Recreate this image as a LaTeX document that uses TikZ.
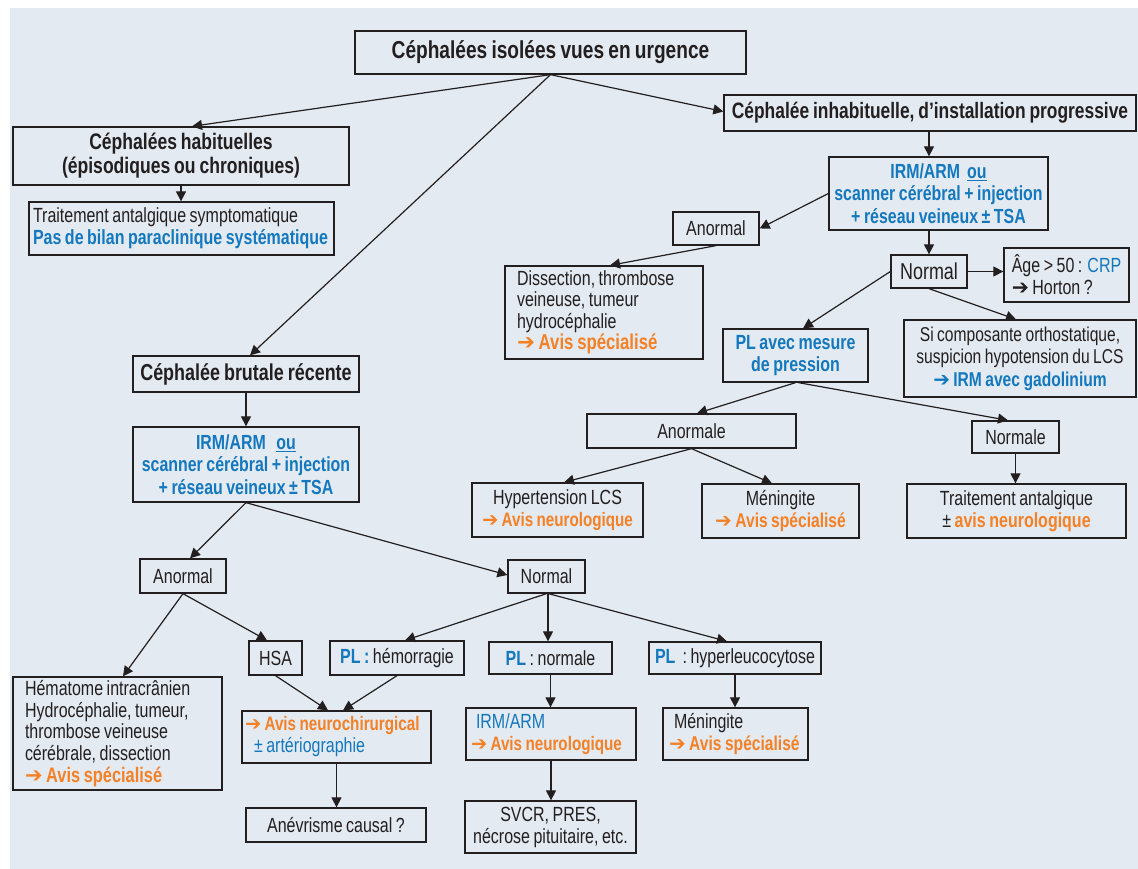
\documentclass[tikz,border=0pt]{standalone}
\usepackage{fontspec}
\setmainfont{Liberation Sans}[FakeStretch=0.78, WordSpace={0.8,0.3,0.3}]
\newfontfamily\symf{DejaVu Sans}
\usetikzlibrary{arrows.meta,calc}
\definecolor{bgc}{RGB}{227,234,241}
\definecolor{ablue}{RGB}{20,120,190}
\definecolor{aorange}{RGB}{245,128,37}
\definecolor{ink}{RGB}{35,31,32}
\newcommand\harr{{\symf\symbol{"2794}}}
\newcommand\fz[1]{\fontsize{#1}{22}\selectfont}
\newcommand\bl[1]{\textcolor{ablue}{\bfseries #1}}
\newcommand\orr[1]{\textcolor{aorange}{\bfseries #1}}
\tikzset{
  box/.style={draw=ink, line width=1.3pt, inner sep=0pt, text=ink, align=center, font=\fz{20.5}},
  lbox/.style={box, align=flush left},
  arr/.style={draw=ink, line width=1.2pt, -{Triangle[length=10pt,width=10pt]}},
}
\begin{document}
\begin{tikzpicture}[x=1pt,y=-1pt]
\useasboundingbox (0,0) rectangle (1138,869);
\fill[bgc] (10,8) rectangle (1138,869);

% top
\node[box, minimum width=391, minimum height=43, font=\fz{24.5}\bfseries] (title) at (550.5,52.5) {Céphalées isolées vues en urgence};
\node[box, minimum width=336, minimum height=58, font=\fontsize{22.5}{24}\selectfont\bfseries] (hab) at (181,156) {Céphalées habituelles\\(épisodiques ou chroniques)};
\node[lbox, minimum width=305, minimum height=53, text width=297] (trait) at (181.5,228.5) {Traitement antalgique symptomatique\\\bl{Pas de bilan paraclinique systématique}};
\node[box, minimum width=412, minimum height=36, font=\fz{22.3}\bfseries] (inhab) at (930,113) {Céphalée inhabituelle, d’installation progressive};

% right branch
\node[box, minimum width=219, minimum height=73, font=\fontsize{20.4}{22.5}\selectfont\bfseries, text=ablue] (irmR) at (938.5,193.5) {IRM/ARM\ \ \underline{ou}\\scanner cérébral + injection\\+ réseau veineux ± TSA};
\node[box, minimum width=86, minimum height=33] (anoR) at (716,228.5) {Anormal};
\node[box, minimum width=76, minimum height=33, font=\fz{23}] (normR) at (929,271.5) {Normal};
\node[lbox, minimum width=125, minimum height=54] (age) at (1066.5,275) {Âge > 50 : \textcolor{ablue}{CRP}\\\harr\,Horton ?};
\node[lbox, minimum width=198, minimum height=93, text width=174, font=\fontsize{20.5}{21.5}\selectfont] (diss) at (604,312.5) {Dissection, thrombose\\veineuse, tumeur\\hydrocéphalie\\\orr{\fontsize{21.5}{21.5}\selectfont\harr\ Avis spécialisé}};
\node[box, minimum width=145, minimum height=53, font=\fontsize{20.5}{22}\selectfont\bfseries, text=ablue] (plmes) at (795.5,355.5) {PL avec mesure\\de pression};
\node[box, minimum width=232, minimum height=77, font=\fontsize{20}{22.5}\selectfont] (sicomp) at (1020,358.5) {Si composante orthostatique,\\suspicion hypotension du LCS\\\bl{\harr\,IRM avec gadolinium}};
\node[box, minimum width=209, minimum height=34] (anormale) at (691.5,431) {Anormale};
\node[box, minimum width=87, minimum height=32] (normale) at (1015.5,437) {Normale};
\node[box, minimum width=171, minimum height=54] (hyper) at (557.5,510) {Hypertension LCS\\\orr{\fontsize{19.5}{22}\selectfont\harr\,Avis neurologique}};
\node[box, minimum width=157, minimum height=54] (menR) at (780.5,511) {Méningite\\\orr{\fontsize{20}{22}\selectfont\harr\ Avis spécialisé}};
\node[box, minimum width=219, minimum height=54] (traitR) at (1016.5,511) {Traitement antalgique\\± \orr{avis neurologique}};

% left branch
\node[box, minimum width=226, minimum height=36, font=\fz{23}\bfseries] (brut) at (246,374) {Céphalée brutale récente};
\node[box, minimum width=226, minimum height=75, font=\fontsize{20.4}{22.5}\selectfont\bfseries, text=ablue] (irmL) at (246,464.5) {IRM/ARM\ \ \ \underline{ou}\\scanner cérébral + injection\\+ réseau veineux ± TSA};
\node[box, minimum width=86, minimum height=34] (anoL) at (183,576) {Anormal};
\node[box, minimum width=77, minimum height=33] (normM) at (546.5,576.5) {Normal};
\node[box, minimum width=53, minimum height=34] (hsa) at (275.5,658) {HSA};
\node[box, minimum width=134, minimum height=34] (plhem) at (397,658) {\bl{PL :} hémorragie};
\node[box, minimum width=123, minimum height=32] (plnorm) at (550.5,658) {\bl{PL} : normale};
\node[box, minimum width=172, minimum height=32] (plhyp) at (735,658) {\bl{PL}\ \ : hyperleucocytose};
\node[lbox, minimum width=209, minimum height=113, text width=185, font=\fontsize{20.5}{21.7}\selectfont] (hemat) at (117.5,733.5) {Hématome intracrânien\\Hydrocéphalie, tumeur,\\thrombose veineuse\\cérébrale, dissection\\\orr{\fontsize{21}{21.7}\selectfont\harr\ Avis spécialisé}};
\node[lbox, minimum width=189, minimum height=52, text width=183] (neuroch) at (336.5,737) {\orr{\fontsize{19.5}{22}\selectfont\harr\,Avis neurochirurgical}\\\hspace*{9pt}\textcolor{ablue}{± artériographie}};
\node[box, minimum width=180, minimum height=34] (anev) at (336,825) {Anévrisme causal ?};
\node[lbox, minimum width=170, minimum height=52, text width=160] (irmN) at (551,734) {\hspace*{5pt}\textcolor{ablue}{IRM/ARM}\\\orr{\fontsize{19.5}{22}\selectfont\harr\,Avis neurologique}};
\node[lbox, minimum width=145, minimum height=52, text width=133] (menL) at (735.5,734) {\hspace*{5pt}Méningite\\\orr{\fontsize{20}{22}\selectfont\harr\ Avis spécialisé}};
\node[box, minimum width=171, minimum height=52] (svcr) at (550.5,827) {SVCR, PRES,\\nécrose pituitaire, etc.};

% connectors
\draw[arr] (title.south) -- ([xshift=11]hab.north);
\draw[arr] (title.south) -- ([xshift=4]brut.north);
\draw[arr] (title.south) -- ([yshift=1.5]inhab.west);
\draw[arr] (hab.south) -- (hab.south |- trait.north);
\draw[arr] (normR.north |- inhab.south) -- (normR.north |- irmR.north);
\draw[arr] (irmR.west) -- (anoR.east);
\draw[arr] (anoR.south) -- ([xshift=6]diss.north);
\draw[arr] (normR.north |- irmR.south) -- (normR.north);
\draw[arr] (normR.east) -- (normR.east -| age.west);
\draw[arr] (normR.west) -- ([xshift=7.5]plmes.north);
\draw[arr] (normR.south) -- ([xshift=-4]sicomp.north);
\draw[arr] (plmes.south) -- ([xshift=5.5]anormale.north);
\draw[arr] ([xshift=3]plmes.south) -- ([xshift=-7.5]normale.north);
\draw[arr] (anormale.south) -- ([xshift=6.5]hyper.north);
\draw[arr] (anormale.south) -- ([xshift=-8.5]menR.north);
\draw[arr] (normale.south) -- (normale.south |- traitR.north);
\draw[arr] (brut.south) -- (irmL.north);
\draw[arr] (irmL.south) -- ([xshift=7]anoL.north);
\draw[arr] (irmL.south) -- ([yshift=1.5]normM.west);
\draw[arr] (anoL.south) -- ([xshift=5.5]hemat.north);
\draw[arr] (anoL.south) -- ([xshift=-8.5]hsa.north);
\draw[arr] (hsa.south) -- ([xshift=-8.5]neuroch.north);
\draw[arr] (plhem.south) -- ([xshift=6.5]neuroch.north);
\draw[arr] (neuroch.south) -- (neuroch.south |- anev.north);
\draw[arr] (normM.south) -- ([xshift=8]plhem.north);
\draw[arr] ([xshift=1.5]normM.south) -- ([xshift=1.5]normM.south |- plnorm.north);
\draw[arr] ([xshift=2]normM.south) -- ([xshift=-8]plhyp.north);
\draw[arr] (plnorm.south) -- (plnorm.south |- irmN.north);
\draw[arr] (irmN.south) -- (irmN.south |- svcr.north);
\draw[arr] (plhyp.south) -- (plhyp.south |- menL.north);
\end{tikzpicture}
\end{document}
